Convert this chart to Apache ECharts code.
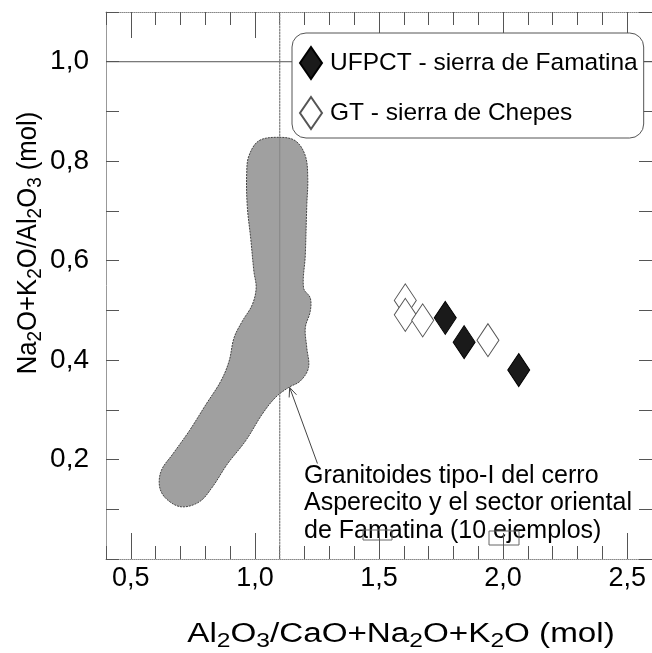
<!DOCTYPE html>
<html><head><meta charset="utf-8">
<script src="https://cdn.jsdelivr.net/npm/echarts@6/dist/echarts.min.js"></script>
<style>html,body{margin:0;padding:0;background:#fff}#c{width:652px;height:653px}</style>
</head><body><div id="c"></div>
<script>
const FONT = "'Liberation Sans', Arial, sans-serif";
const xTickLabels = [0.5, 1.0, 1.5, 2.0, 2.5];
const yTickLabels = [0.2, 0.4, 0.6, 0.8, 1.0];
const seriesNames = ['UFPCT - sierra de Famatina', 'GT - sierra de Chepes'];
const ufpctX = [1.767, 1.843, 2.063];
const ufpctY = [0.485, 0.436, 0.380];
const gtX = [1.606, 1.606, 1.676, 1.939];
const gtY = [0.520, 0.491, 0.480, 0.440];
const regionX = [1.096,1.016,0.976,0.967,0.969,0.983,0.996,1.005,0.989,0.949,0.916,0.896,0.863,0.803,0.736,0.669,0.623,0.616,0.643,0.703,0.776,0.829,0.889,0.963,1.029,1.083,1.136,1.183,1.216,1.209,1.203,1.223,1.223,1.196,1.203,1.209,1.213,1.203,1.163];
const regionY = [0.848,0.841,0.811,0.778,0.711,0.645,0.578,0.545,0.511,0.478,0.445,0.398,0.358,0.311,0.258,0.211,0.178,0.145,0.121,0.105,0.115,0.145,0.191,0.238,0.291,0.325,0.345,0.358,0.385,0.425,0.465,0.498,0.525,0.545,0.611,0.711,0.765,0.811,0.841];
const arrowX = [1.252, 1.140];
const arrowY = [0.192, 0.345];
const refLineX = 1.1;
const refLineY = 1.0;
const noteLines = ['Granitoides tipo-I del cerro', 'Asperecito y el sector oriental', 'de Famatina (10 ejemplos)'];

const fmt = v => v.toFixed(1).replace('.', ',');
const zip = (a, b) => a.map((v, i) => [v, b[i]]);

const chart = echarts.init(document.getElementById('c'), null, {renderer: 'canvas'});

const xBase = {type: 'value', min: 0.4, max: 2.6, splitLine: {show: false}};
const yBase = {type: 'value', min: 0, max: 1.1, splitLine: {show: false}};

const option = {
  animation: false,
  backgroundColor: '#fff',
  grid: {left: 106, top: 12, right: -1, bottom: 94, containLabel: false},
  xAxis: [
    Object.assign({}, xBase, {position: 'bottom', interval: 0.1,
      axisLine: {show: true, lineStyle: {color: '#888', type: 'dotted', width: 1}},
      axisTick: {inside: true, length: 13, lineStyle: {color: '#555'}},
      axisLabel: {customValues: xTickLabels, formatter: fmt, fontSize: 27, color: '#000', margin: 6, fontFamily: FONT}}),
    Object.assign({}, xBase, {position: 'bottom',
      axisLine: {show: false},
      axisTick: {inside: true, length: 26, customValues: xTickLabels, lineStyle: {color: '#555'}},
      axisLabel: {show: false}}),
    Object.assign({}, xBase, {position: 'top', interval: 0.1,
      axisLine: {show: true, lineStyle: {color: '#888', type: 'dotted', width: 1}},
      axisTick: {inside: true, length: 13, lineStyle: {color: '#555'}},
      axisLabel: {show: false}}),
    Object.assign({}, xBase, {position: 'top',
      axisLine: {show: false},
      axisTick: {inside: true, length: 26, customValues: xTickLabels, lineStyle: {color: '#555'}},
      axisLabel: {show: false}})
  ],
  yAxis: [
    Object.assign({}, yBase, {position: 'left', interval: 0.1,
      axisLine: {show: true, lineStyle: {color: '#999', width: 1}},
      axisTick: {inside: true, length: 13, lineStyle: {color: '#555'}},
      axisLabel: {customValues: yTickLabels, formatter: fmt, fontSize: 28, color: '#000', margin: 17, fontFamily: FONT}}),
    Object.assign({}, yBase, {position: 'right', interval: 0.1,
      axisLine: {show: false},
      axisTick: {inside: true, length: 13, lineStyle: {color: '#555'}},
      axisLabel: {show: false}})
  ],
  legend: {
    data: seriesNames,
    orient: 'vertical',
    left: 292, top: 33,
    padding: [13, 6, 8, 7],
    itemWidth: 22, itemHeight: 32, itemGap: 16,
    backgroundColor: '#fff',
    borderColor: '#555', borderWidth: 1, borderRadius: 14,
    selectedMode: false,
    textStyle: {fontSize: 24.5, color: '#000', fontFamily: FONT, padding: [0, 0, 0, 3]}
  },
  graphic: [
    {type: 'text', x: 401, y: 635, scaleX: 1.23, style: {
      text: '{n|Al}{s|2}{n|O}{s|3}{n|/CaO+Na}{s|2}{n|O+K}{s|2}{n|O (mol)}',
      align: 'center', verticalAlign: 'middle',
      rich: {n: {fontSize: 27, fontFamily: FONT, fill: '#000'}, s: {fontSize: 20, fontFamily: FONT, fill: '#000', padding: [12, 0, 0, 0]}}}},
    {type: 'text', x: 29, y: 243, rotation: Math.PI / 2, scaleX: 0.95, style: {
      text: '{n|Na}{s|2}{n|O+K}{s|2}{n|O/Al}{s|2}{n|O}{s|3}{n| (mol)}',
      align: 'center', verticalAlign: 'middle',
      rich: {n: {fontSize: 27, fontFamily: FONT, fill: '#000'}, s: {fontSize: 20, fontFamily: FONT, fill: '#000', padding: [12, 0, 0, 0]}}}},
    {type: 'text', x: 304, y: 462, style: {
      text: noteLines.join('\n'), fontSize: 25, lineHeight: 27.5, fontFamily: FONT, fill: '#000',
      align: 'left', verticalAlign: 'top'}},
    {type: 'rect', shape: {x: 363, y: 530, width: 29, height: 10}, style: {fill: 'none', stroke: '#666', lineWidth: 1}},
    {type: 'rect', shape: {x: 489, y: 531, width: 30, height: 14}, style: {fill: 'none', stroke: '#666', lineWidth: 1}}
  ],
  series: [
    {type: 'line', name: 'vref', data: [[refLineX, 0], [refLineX, 1.1]], symbol: 'none', silent: true,
      lineStyle: {color: '#888', width: 1, type: [2, 1]}, z: 1},
    {type: 'line', name: 'href', data: [[0.4, refLineY], [2.6, refLineY]], symbol: 'none', silent: true,
      lineStyle: {color: '#555', width: 1}, z: 1},
    {type: 'custom', name: 'region', data: zip(regionX, regionY), silent: true, z: 2,
      renderItem: function (params, api) {
        if (params.dataIndex !== 0) return null;
        const pts = regionX.map((x, i) => api.coord([x, regionY[i]]));
        return {type: 'polygon', shape: {points: pts, smooth: 0.35},
          style: {fill: '#a0a0a0', stroke: '#444', lineWidth: 1, lineDash: [2, 1]}};
      }},
    {type: 'line', name: 'vref2', data: [[refLineX, 0], [refLineX, 1.1]], symbol: 'none', silent: true,
      lineStyle: {color: '#777', width: 1, opacity: 0.6}, z: 3},
    {type: 'custom', name: 'arrow', data: zip(arrowX, arrowY), silent: true, z: 3,
      renderItem: function (params, api) {
        if (params.dataIndex !== 0) return null;
        const p0 = api.coord([arrowX[0], arrowY[0]]);
        const p1 = api.coord([arrowX[1], arrowY[1]]);
        const a = Math.atan2(p1[1] - p0[1], p1[0] - p0[0]);
        const L = 10, w = 0.4;
        const b1 = [p1[0] - L * Math.cos(a - w), p1[1] - L * Math.sin(a - w)];
        const b2 = [p1[0] - L * Math.cos(a + w), p1[1] - L * Math.sin(a + w)];
        return {type: 'group', children: [
          {type: 'polyline', shape: {points: [p0, p1]}, style: {stroke: '#444', lineWidth: 1, fill: null}},
          {type: 'polyline', shape: {points: [b1, p1, b2]}, style: {stroke: '#444', lineWidth: 1, fill: null}}
        ]};
      }},
    {type: 'scatter', name: seriesNames[1], data: zip(gtX, gtY), symbol: 'diamond', symbolSize: [22, 33],
      itemStyle: {color: '#fff', borderColor: '#555', borderWidth: 1, opacity: 1}, z: 4},
    {type: 'scatter', name: seriesNames[0], data: zip(ufpctX, ufpctY), symbol: 'diamond', symbolSize: [22, 33],
      itemStyle: {color: '#1a1a1a', borderColor: '#000', borderWidth: 1, opacity: 1}, z: 5}
  ]
};
chart.setOption(option);
</script>
</body></html>
